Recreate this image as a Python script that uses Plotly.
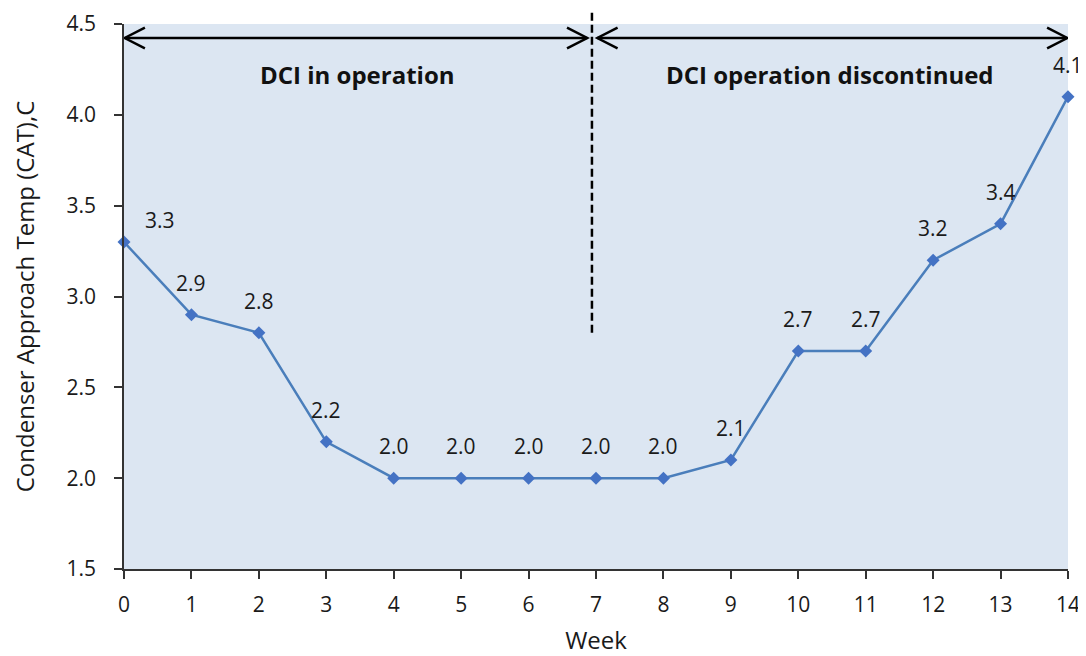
import plotly.graph_objects as go

weeks = [0, 1, 2, 3, 4, 5, 6, 7, 8, 9, 10, 11, 12, 13, 14]
cat = [3.3, 2.9, 2.8, 2.2, 2.0, 2.0, 2.0, 2.0, 2.0, 2.1, 2.7, 2.7, 3.2, 3.4, 4.1]
phase_labels = ["DCI in operation", "DCI operation discontinued"]
phase_x = [3.46, 10.47]
y_ticks = [1.5, 2.0, 2.5, 3.0, 3.5, 4.0, 4.5]

FONT = "'Open Sans', 'Noto Sans', sans-serif"
TXT = "#1a1a1a"

fig = go.Figure()
fig.add_trace(go.Scatter(
    x=weeks, y=cat, mode="lines+markers",
    line=dict(color="#4a7ebb", width=2.5),
    marker=dict(symbol="diamond", size=10, color="#4472c4"),
    cliponaxis=False, showlegend=False,
))

annotations = []
for i, (w, v) in enumerate(zip(weeks, cat)):
    annotations.append(dict(
        x=w, y=v, xref="x", yref="y", text=f"{v:.1f}", showarrow=False,
        yshift=22 if i == 0 else 32, xshift=36 if i == 0 else 0,
        xanchor="center", yanchor="middle",
        font=dict(family=FONT, size=21, color=TXT),
    ))
for lab, px in zip(phase_labels, phase_x):
    annotations.append(dict(
        x=px, y=0.908, xref="x", yref="paper", text=f"<b>{lab}</b>", showarrow=False,
        xanchor="center", yanchor="middle",
        font=dict(family=FONT, size=24, color="#111111"),
    ))

# arrows and dashed divider
ya = 0.9743
dx = 0.30
dy = 0.019
shapes = []
def arrow(x0, x1):
    shapes.append(dict(type="line", xref="x", yref="paper", x0=x0, x1=x1, y0=ya, y1=ya,
                       line=dict(color="black", width=2.5)))
    for tip, sgn in ((x0, 1), (x1, -1)):
        shapes.append(dict(type="path", xref="x", yref="paper",
                           path=f"M {tip + sgn*dx} {ya + dy} L {tip} {ya} L {tip + sgn*dx} {ya - dy}",
                           line=dict(color="black", width=2.5)))
arrow(0.01, 6.87)
arrow(7.02, 13.99)
shapes.append(dict(type="line", xref="x", yref="paper", x0=6.94, x1=6.94,
                   y0=(2.8 - 1.5) / 3.0, y1=1.026,
                   line=dict(color="black", width=2.5, dash="8px,4px")))

fig.update_layout(
    width=1078, height=648,
    margin=dict(l=116, r=18, t=16, b=87),
    paper_bgcolor="white", plot_bgcolor="#dce6f2",
    font=dict(family=FONT, size=21, color=TXT),
    annotations=annotations, shapes=shapes,
    xaxis=dict(range=[0, 14], tickmode="array", tickvals=weeks, ticks="outside", ticklen=8,
               tickwidth=1.5, tickcolor="#333", showline=True, linecolor="#333", linewidth=1.5,
               showgrid=False, zeroline=False, ticklabelstandoff=8, automargin=False,
               title=dict(text="Week", font=dict(size=24), standoff=18),
               tickfont=dict(size=21)),
    yaxis=dict(range=[1.5, 4.5], tickmode="array", tickvals=y_ticks,
               ticktext=[f"{t:.1f}" for t in y_ticks], ticks="outside", ticklen=8,
               tickwidth=1.5, tickcolor="#333", showline=True, linecolor="#333", linewidth=1.5,
               showgrid=False, zeroline=False, ticklabelstandoff=14, automargin=False,
               title=dict(text="Condenser Approach Temp (CAT),C", font=dict(size=24), standoff=28),
               tickfont=dict(size=21)),
)
fig.write_html("out.html")
